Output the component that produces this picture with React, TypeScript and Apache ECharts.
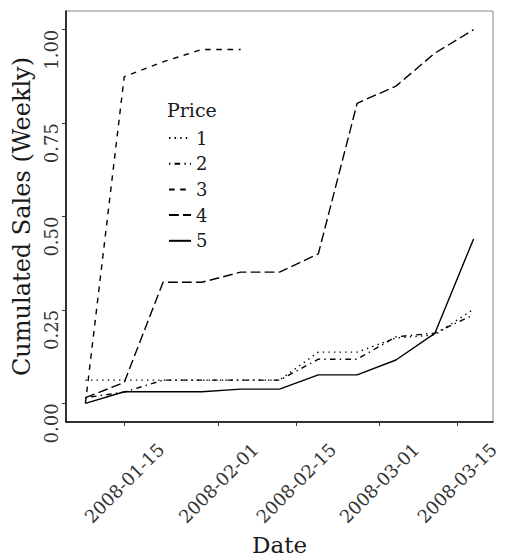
import React, { useEffect, useRef } from "react";
import * as echarts from "echarts";

// Weekly observation dates
const dates = [
  "2008-01-08", "2008-01-15", "2008-01-22", "2008-01-29", "2008-02-05", "2008-02-12",
  "2008-02-19", "2008-02-26", "2008-03-04", "2008-03-11", "2008-03-18",
];

// Cumulated weekly sales share, one array per price level
const price1 = [0.062, 0.062, 0.062, 0.062, 0.062, 0.062, 0.137, 0.137, 0.175, 0.183, 0.252];
const price2 = [0.015, 0.030, 0.062, 0.062, 0.062, 0.062, 0.118, 0.118, 0.178, 0.188, 0.237];
const price3 = [0.0, 0.874, 0.914, 0.947, 0.947];
const price4 = [0.015, 0.056, 0.324, 0.324, 0.351, 0.351, 0.40, 0.803, 0.849, 0.937, 1.0];
const price5 = [0.0, 0.031, 0.031, 0.031, 0.038, 0.038, 0.076, 0.076, 0.116, 0.187, 0.44];

const priceNames = ["1", "2", "3", "4", "5"];
const yTicks = [0, 0.25, 0.5, 0.75, 1];
const xTickDates = ["2008-01-15", "2008-02-01", "2008-02-15", "2008-03-01", "2008-03-15"];

const toTs = (s: string) => {
  const [y, m, d] = s.split("-").map(Number);
  return Date.UTC(y, m - 1, d);
};
const fmtDate = (v: number) => new Date(v).toISOString().slice(0, 10);

const FONT = "DejaVu Serif";
const LW = 1.4;
// R-style line types: dotted, dotdash, dashed, longdash, solid
const dashes: (number[] | "solid")[] = [
  [1.4, 4.2],
  [1.4, 4.2, 5.6, 4.2],
  [5.6, 5.6],
  [9.8, 4.2],
  "solid",
];

export default function App() {
  const ref = useRef<HTMLDivElement>(null);
  useEffect(() => {
    if (!ref.current) return;
    const chart = echarts.init(ref.current, null, { renderer: "svg" });
    const seriesValues = [price1, price2, price3, price4, price5];
    const series = seriesValues.map((vals, i) => ({
      name: priceNames[i],
      type: "line",
      symbol: "none",
      lineStyle: { color: "#000", width: LW, type: dashes[i], cap: "butt" },
      itemStyle: { color: "#000" },
      data: vals.map((v, j) => [toTs(dates[j]), v]),
    }));
    const xMin = Date.UTC(2008, 0, 4, 12);
    const xMax = Date.UTC(2008, 2, 21, 12);
    chart.setOption({
      animation: false,
      backgroundColor: "#fff",
      title: {
        text: "Price",
        left: 167,
        top: 100,
        padding: 0,
        textStyle: { fontFamily: FONT, fontSize: 19, fontWeight: "normal", color: "#1a1a1a" },
      },
      legend: {
        orient: "vertical",
        left: 168,
        top: 128,
        padding: 0,
        itemWidth: 22,
        itemHeight: 20,
        itemGap: 5.7,
        data: priceNames,
        itemStyle: { opacity: 0 },
        textStyle: { fontFamily: FONT, fontSize: 18, color: "#1a1a1a", lineHeight: 20 },
      },
      grid: {
        left: 66,
        right: 16,
        top: 11,
        bottom: 136,
        show: true,
        borderColor: "#888",
        borderWidth: 1,
        outerBoundsMode: "none",
      },
      xAxis: {
        type: "value",
        min: xMin,
        max: xMax,
        name: "Date",
        nameLocation: "middle",
        nameGap: 107,
        nameTextStyle: { fontFamily: FONT, fontSize: 23, color: "#1a1a1a" },
        axisLine: { show: true, onZero: false, lineStyle: { color: "#000", width: 1.5 } },
        axisTick: {
          show: true,
          length: 4,
          lineStyle: { color: "#333" },
          customValues: xTickDates.map(toTs),
        },
        axisLabel: {
          customValues: xTickDates.map(toTs),
          formatter: (v: number) => fmtDate(v),
          rotate: 45,
          align: "center",
          verticalAlign: "middle",
          margin: 61,
          fontFamily: FONT,
          fontSize: 18,
          color: "#333",
        },
        splitLine: { show: false },
      },
      yAxis: {
        type: "value",
        min: -0.05,
        max: 1.05,
        name: "Cumulated Sales (Weekly)",
        nameLocation: "middle",
        nameGap: 30,
        nameTextStyle: { fontFamily: FONT, fontSize: 24, color: "#1a1a1a" },
        axisLine: { show: true, onZero: false, lineStyle: { color: "#000", width: 1.5 } },
        axisTick: {
          show: true,
          length: 4,
          lineStyle: { color: "#333" },
          customValues: yTicks,
        },
        axisLabel: {
          customValues: yTicks,
          formatter: (v: number) => v.toFixed(2),
          rotate: 90,
          align: "right",
          verticalAlign: "bottom",
          margin: 6,
          fontFamily: FONT,
          fontSize: 18,
          color: "#333",
        },
        splitLine: { show: false },
      },
      series,
    });
    return () => chart.dispose();
  }, []);
  return (
    <div
      ref={ref}
      style={{ position: "fixed", left: 0, top: 0, width: 509, height: 558 }}
    />
  );
}
